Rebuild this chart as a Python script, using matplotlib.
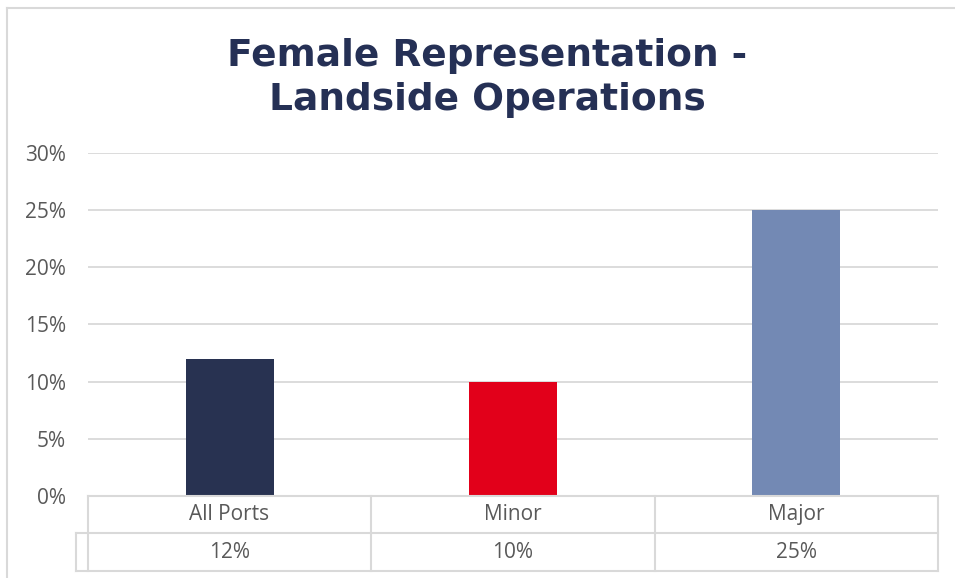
import matplotlib.pyplot as plt
from matplotlib.lines import Line2D

W, H = 955, 578

categories = ["All Ports", "Minor", "Major"]
values = [12, 10, 25]
table_labels = ["12%", "10%", "25%"]
bar_colors = ["#283251", "#E2001A", "#7389B4"]
yticks = [0, 5, 10, 15, 20, 25, 30]

GRID = "#D9D9D9"
TEXT = "#595959"
TITLE = "#253055"


def fx(px):
    return px / W


def fy(py):
    return 1 - py / H


fig = plt.figure(figsize=(W / 100, H / 100), dpi=100)
ax = fig.add_axes([fx(88), fy(496), fx(938) - fx(88), fy(153) - fy(496)])

x = range(len(categories))
ax.bar(x, values, width=0.31, color=bar_colors, zorder=3)
ax.set_xlim(-0.5, len(categories) - 0.5)
ax.set_ylim(0, 30)
ax.set_yticks(yticks)
ax.set_yticklabels([f"{t}%" for t in yticks], fontsize=15, color=TEXT,
                   family="Open Sans")
ax.tick_params(axis="y", length=0, pad=16)
ax.set_xticks([])
ax.grid(axis="y", color=GRID, linewidth=1.3, zorder=0)
for s in ax.spines.values():
    s.set_visible(False)

# title
fig.text(fx(487), fy(78), "Female Representation -\nLandside Operations",
         ha="center", va="center", fontsize=27, fontweight="bold",
         color=TITLE, linespacing=1.3)

# data table under the axis
rows = [496, 533, 571]
bounds = [88, 371, 655, 938]


def hline(x0, x1, y):
    fig.add_artist(Line2D([fx(x0), fx(x1)], [fy(y), fy(y)], color=GRID, lw=1.5))


def vline(x0, y0, y1):
    fig.add_artist(Line2D([fx(x0), fx(x0)], [fy(y0), fy(y1)], color=GRID, lw=1.5))


hline(88, 938, rows[0])
hline(76, 938, rows[1])
hline(76, 938, rows[2])
for b in bounds:
    vline(b, rows[0], rows[2])
vline(76, rows[1], rows[2])

for i, (cat, lab) in enumerate(zip(categories, table_labels)):
    xc = fx((bounds[i] + bounds[i + 1]) / 2)
    fig.text(xc, fy((rows[0] + rows[1]) / 2), cat, ha="center", va="center",
             fontsize=15, color=TEXT, family="Open Sans")
    fig.text(xc, fy((rows[1] + rows[2]) / 2), lab, ha="center", va="center",
             fontsize=15, color=TEXT, family="Open Sans")

# chart border (cropped at right and bottom)
fig.add_artist(Line2D([fx(7), 1], [fy(8), fy(8)], color=GRID, lw=1.5))
fig.add_artist(Line2D([fx(7), fx(7)], [fy(8), 0], color=GRID, lw=1.5))

fig.savefig("out.png", dpi=100)
